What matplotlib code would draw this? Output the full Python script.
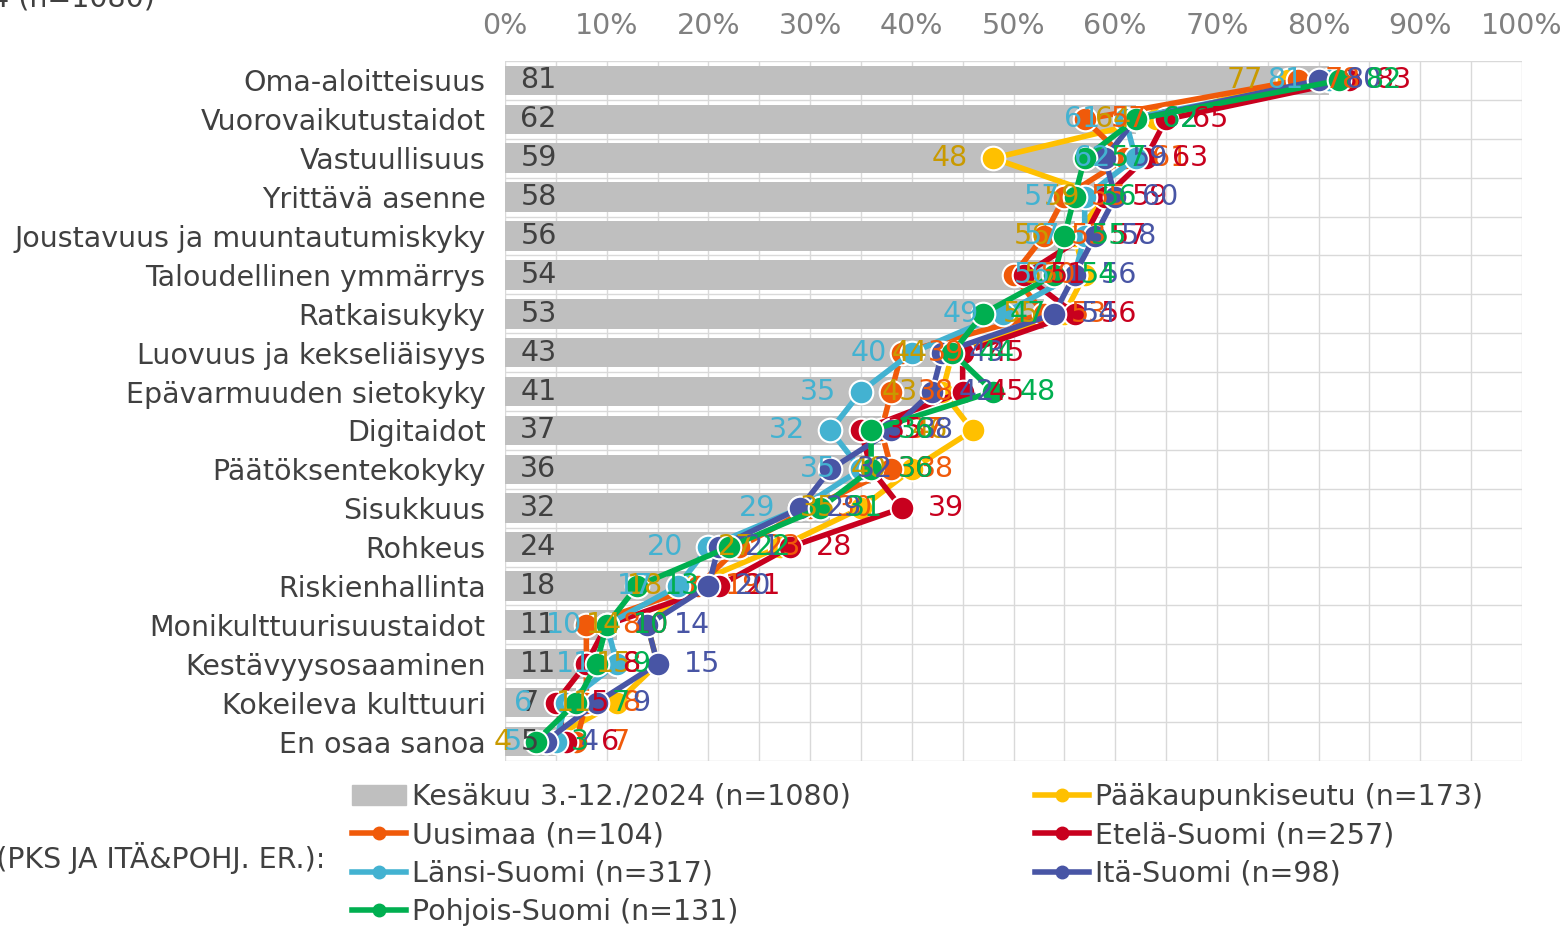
import matplotlib
matplotlib.use("Agg")
import matplotlib.pyplot as plt
from matplotlib.lines import Line2D
from matplotlib.patches import Patch

plt.rcParams["font.family"] = ["DejaVu Sans"]

categories = [
    "Oma-aloitteisuus", "Vuorovaikutustaidot", "Vastuullisuus", "Yrittävä asenne",
    "Joustavuus ja muuntautumiskyky", "Taloudellinen ymmärrys", "Ratkaisukyky",
    "Luovuus ja kekseliäisyys", "Epävarmuuden sietokyky", "Digitaidot",
    "Päätöksentekokyky", "Sisukkuus", "Rohkeus", "Riskienhallinta",
    "Monikulttuurisuustaidot", "Kestävyysosaaminen", "Kokeileva kulttuuri", "En osaa sanoa",
]
total = [81, 62, 59, 58, 56, 54, 53, 43, 41, 37, 36, 32, 24, 18, 11, 11, 7, 5]
pks = [77, 64, 48, 59, 56, 57, 55, 44, 43, 46, 40, 35, 27, 18, 14, 15, 11, 4]
uusimaa = [78, 57, 61, 55, 53, 50, 53, 39, 38, 37, 38, 30, 23, 19, 8, 8, 8, 7]
etela = [83, 65, 63, 59, 57, 51, 56, 45, 45, 35, 36, 39, 28, 21, 10, 8, 5, 6]
lansi = [81, 61, 62, 57, 57, 56, 49, 40, 35, 32, 35, 29, 20, 17, 10, 11, 6, 5]
ita = [80, 62, 59, 60, 58, 56, 54, 43, 42, 38, 32, 29, 21, 20, 14, 15, 9, 4]
pohjois = [82, 62, 57, 56, 55, 54, 47, 44, 48, 36, 36, 31, 22, 13, 10, 9, 7, 3]

total_label = "Kesäkuu 3.-12./2024 (n=1080)"
series = [
    ("Pääkaupunkiseutu (n=173)", pks, "#FFC000", "#C99A00", "left"),
    ("Uusimaa (n=104)", uusimaa, "#F05A0A", "#F05A0A", "right"),
    ("Etelä-Suomi (n=257)", etela, "#C8001E", "#C8001E", "right"),
    ("Länsi-Suomi (n=317)", lansi, "#43B2D1", "#43B2D1", "left"),
    ("Itä-Suomi (n=98)", ita, "#4855A5", "#4855A5", "right"),
    ("Pohjois-Suomi (n=131)", pohjois, "#00AF50", "#00AF50", "right"),
]

FS = 20.5
fig = plt.figure(figsize=(15.62, 9.27), dpi=100)
ax = fig.add_axes([505 / 1562, 1 - 761 / 927, 1017 / 1562, 700 / 927])

ypos = list(range(len(categories)))
ax.barh(ypos, total, height=0.76, color="#BFBFBF", zorder=2)
for y, v in zip(ypos, total):
    ax.text(1.5, y, str(v), ha="left", va="center", fontsize=FS, color="#404040", zorder=6)

for name, values, color, label_color, side in series:
    ax.plot(values, ypos, color=color, lw=4, marker="o", ms=17,
            markeredgecolor="white", markeredgewidth=1.5, zorder=4)
for name, values, color, label_color, side in series:
    dx = -31 if side == "left" else 32
    for y, v in zip(ypos, values):
        ax.annotate(str(v), (v, y), xytext=(dx, 0), textcoords="offset points",
                    ha="center", va="center", fontsize=FS, color=label_color, zorder=7)

ax.set_xlim(0, 100)
ax.set_ylim(len(categories) - 0.5, -0.5)
ax.set_xticks(range(0, 101, 10))
ax.set_xticklabels([f"{t}%" for t in range(0, 101, 10)])
ax.set_xticks(range(0, 101, 5), minor=True)
ax.xaxis.tick_top()
ax.tick_params(axis="x", which="both", length=0, pad=15, labelsize=FS, labelcolor="#808080")
ax.set_yticks(ypos)
ax.set_yticklabels(categories)
ax.tick_params(axis="y", length=0, pad=14, labelsize=FS, labelcolor="#404040")
for y in range(len(categories) + 1):
    ax.axhline(y - 0.5, color="#D9D9D9", lw=1, zorder=1)
ax.grid(axis="x", which="both", color="#D9D9D9", lw=1, zorder=1)
ax.set_axisbelow(True)
for s in ax.spines.values():
    s.set_visible(False)

def line_handle(color):
    return Line2D([0], [0], color=color, lw=4, marker="o", ms=9,
                  markeredgecolor=color)

left_handles = [Patch(color="#BFBFBF")] + [line_handle(series[i][2]) for i in (1, 3, 5)]
left_labels = [total_label] + [series[i][0] for i in (1, 3, 5)]
right_handles = [line_handle(series[i][2]) for i in (0, 2, 4)]
right_labels = [series[i][0] for i in (0, 2, 4)]

for handles, labels, x in ((left_handles, left_labels, 352), (right_handles, right_labels, 1035)):
    fig.legend(handles, labels, loc="upper left", bbox_to_anchor=(x / 1562, 1 - 783 / 927),
               frameon=False, fontsize=FS, handlelength=1.9, handletextpad=0.2,
               labelspacing=0.36, borderpad=0, borderaxespad=0, labelcolor="#404040")

fig.text(155 / 1562, 1 + 1 / 927, "Kesäkuu 3.-12./2024 (n=1080)", ha="right", va="center",
         fontsize=FS, color="#404040")
fig.text(325 / 1562, 1 - 858 / 927, "ALUEET (PKS JA ITÄ&POHJ. ER.):", ha="right", va="center",
         fontsize=FS, color="#404040")

fig.savefig("out.png", dpi=100)
